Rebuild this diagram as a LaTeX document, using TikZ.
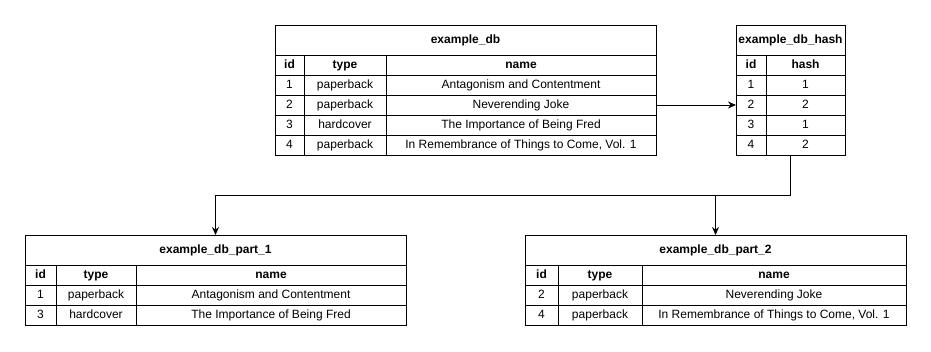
\documentclass[tikz,border=0pt]{standalone}
\usepackage{fontspec}
\setmainfont{Liberation Sans}
\usetikzlibrary{positioning, arrows.meta}

\tikzset{
  cell/.style={draw, line width=1pt, inner sep=0pt, outer sep=0pt,
    minimum height=20pt, text height=8.6pt, text depth=2.4pt,
    font=\fontsize{12}{14}\selectfont},
  headcell/.style={cell, font=\fontsize{12}{14}\selectfont\bfseries},
  titlecell/.style={headcell, minimum height=30pt},
  link/.style={line width=1pt, -{Stealth[length=8pt, width=7pt]}}
}

\begin{document}
\begin{tikzpicture}[x=1pt, y=-1pt]
  \useasboundingbox (0,0) rectangle (931,351);

  % example_db
  \node[titlecell, minimum width=381pt] (db-title) at (465.5,40) {example\_db};
  \node[headcell, minimum width=29pt] (db-id) at (289.5,65) {id};
  \node[headcell, minimum width=82pt] (db-type) at (345,65) {type};
  \node[headcell, minimum width=270pt] (db-name) at (521,65) {name};
  \foreach \id/\kind/\bookname [count=\r] in {1/paperback/Antagonism and Contentment,
      2/paperback/Neverending Joke, 3/hardcover/The Importance of Being Fred,
      {4/paperback/In Remembrance of Things to Come, Vol. 1}} {
    \node[cell, minimum width=29pt] (db-r\r-id) at (289.5,65+20*\r) {\id};
    \node[cell, minimum width=82pt] (db-r\r-type) at (345,65+20*\r) {\kind};
    \node[cell, minimum width=270pt] (db-r\r-name) at (521,65+20*\r) {\bookname};
  }

  % example_db_hash
  \node[titlecell, minimum width=109pt] (hash-title) at (790.5,40) {example\_db\_hash};
  \node[headcell, minimum width=30pt] (hash-id) at (751,65) {id};
  \node[headcell, minimum width=79pt] (hash-hash) at (805.5,65) {hash};
  \foreach \id/\h [count=\r] in {1/1, 2/2, 3/1, 4/2} {
    \node[cell, minimum width=30pt] (hash-r\r-id) at (751,65+20*\r) {\id};
    \node[cell, minimum width=79pt] (hash-r\r-hash) at (805.5,65+20*\r) {\h};
  }

  % example_db_part_1
  \node[titlecell, minimum width=381pt] (p1-title) at (215.5,250) {example\_db\_part\_1};
  \node[headcell, minimum width=31pt] (p1-id) at (40.5,275) {id};
  \node[headcell, minimum width=80pt] (p1-type) at (96,275) {type};
  \node[headcell, minimum width=270pt] (p1-name) at (271,275) {name};
  \foreach \id/\kind/\bookname [count=\r] in {1/paperback/Antagonism and Contentment,
      3/hardcover/The Importance of Being Fred} {
    \node[cell, minimum width=31pt] (p1-r\r-id) at (40.5,275+20*\r) {\id};
    \node[cell, minimum width=80pt] (p1-r\r-type) at (96,275+20*\r) {\kind};
    \node[cell, minimum width=270pt] (p1-r\r-name) at (271,275+20*\r) {\bookname};
  }

  % example_db_part_2
  \node[titlecell, minimum width=381pt] (p2-title) at (715.5,250) {example\_db\_part\_2};
  \node[headcell, minimum width=33pt] (p2-id) at (541.5,275) {id};
  \node[headcell, minimum width=84pt] (p2-type) at (600,275) {type};
  \node[headcell, minimum width=264pt] (p2-name) at (774,275) {name};
  \foreach \id/\kind/\bookname [count=\r] in {2/paperback/Neverending Joke,
      {4/paperback/In Remembrance of Things to Come, Vol. 1}} {
    \node[cell, minimum width=33pt] (p2-r\r-id) at (541.5,275+20*\r) {\id};
    \node[cell, minimum width=84pt] (p2-r\r-type) at (600,275+20*\r) {\kind};
    \node[cell, minimum width=264pt] (p2-r\r-name) at (774,275+20*\r) {\bookname};
  }

  % connectors
  \draw[link] (db-r2-name.east) -- (hash-r2-id.west);
  \draw[line width=1pt] (hash-title.south |- hash-r4-hash.south) -- ++(0,40) coordinate (split);
  \draw[link] (split) -| (p1-title.north);
  \draw[link] (split) -| (p2-title.north);
\end{tikzpicture}
\end{document}
